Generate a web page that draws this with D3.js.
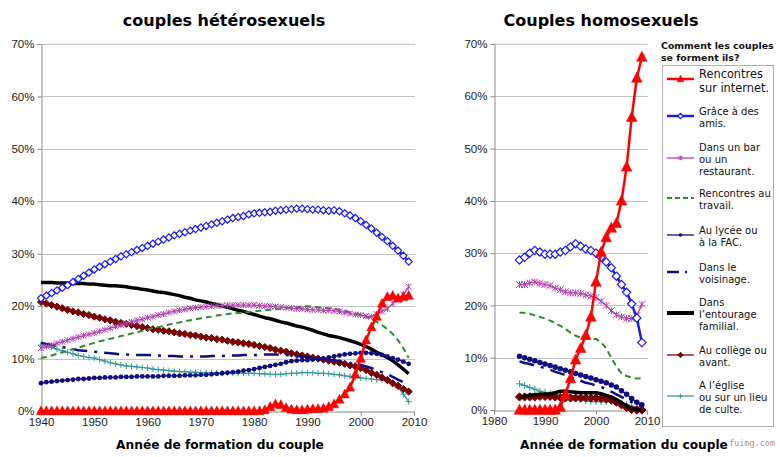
<!DOCTYPE html>
<html>
<head>
<meta charset="utf-8">
<script src="https://cdn.jsdelivr.net/npm/d3@7"></script>
<style>
  body { margin: 0; background: #fff; }
  svg  { display: block; }
</style>
</head>
<body>
<svg id="chart" width="780" height="457"></svg>
<script>
/* ── Data ──────────────────────────────────────────────────────── */

const heteroYears = d3.range(1940, 2010);   // 1940 … 2009
const homoYears   = d3.range(1985, 2010);   // 1985 … 2009

const yTicks      = [0, 10, 20, 30, 40, 50, 60, 70];
const heteroTicks = [1940, 1950, 1960, 1970, 1980, 1990, 2000, 2010];
const homoTicks   = [1980, 1990, 2000, 2010];

// couples hétérosexuels, % par année
const heteroInternet = [
  0,0,0,0,0,0,0,0,0,0, 0,0,0,0,0,0,0,0,0,0, 0,0,0,0,0,0,0,0,0,0, 0,0,0,0,0,0,0,0,0,0,
  0,0, 0.2,0.8,1.3,1.2,0.6,0.3,0.2,0.2,
  0.3,0.4,0.4,0.5,0.8,1.3,2.2,3.2,4.5,7.0,
  10.0,13.5,16.0,18.0,20.5,21.8,22.0,21.5,21.8,22.0];
const heteroFriends = [
  21.5,22.0,22.5,23.0,23.5,24.0,24.6,25.2,25.8,26.4,
  27.0,27.5,28.0,28.5,29.0,29.5,29.9,30.3,30.7,31.1,
  31.5,31.9,32.3,32.7,33.1,33.5,33.8,34.1,34.4,34.7,
  35.0,35.3,35.6,35.9,36.2,36.5,36.8,37.0,37.2,37.5,
  37.7,37.8,37.9,38.0,38.2,38.3,38.4,38.5,38.6,38.6,
  38.5,38.4,38.4,38.3,38.2,38.3,38.1,37.7,37.3,36.8,
  36.2,35.5,34.8,34.0,33.2,32.4,31.5,30.6,29.6,28.5];
const heteroBar = [
  12.0,12.3,12.6,12.9,13.2,13.5,13.8,14.1,14.4,14.6,
  14.9,15.2,15.5,15.8,16.1,16.4,16.7,17.0,17.3,17.5,
  17.8,18.0,18.3,18.5,18.8,19.0,19.2,19.4,19.6,19.7,
  19.8,19.9,20.0,20.1,20.1,20.2,20.2,20.2,20.2,20.2,
  20.2,20.1,20.0,20.0,19.9,19.8,19.7,19.6,19.5,19.5,
  19.4,19.3,19.3,19.2,19.2,19.1,19.0,18.8,18.6,18.4,
  18.3,18.1,18.0,18.5,19.0,19.5,20.5,21.2,22.2,23.7];
const heteroWork = [
  10.1,10.3,10.6,10.9,11.2,11.5,11.8,12.1,12.4,12.7,
  13.0,13.3,13.5,13.8,14.0,14.3,14.5,14.8,15.0,15.3,
  15.5,15.8,16.0,16.2,16.5,16.7,16.9,17.1,17.3,17.5,
  17.7,17.9,18.0,18.2,18.3,18.5,18.6,18.7,18.8,18.9,
  19.0,19.1,19.2,19.3,19.4,19.5,19.6,19.7,19.8,19.9,
  20.0,19.9,19.8,19.7,19.6,19.5,19.3,19.1,18.8,18.6,
  18.3,18.0,17.5,17.0,16.4,15.6,14.7,13.5,12.0,10.1];
const heteroSchool = [
  5.3,5.5,5.6,5.7,5.8,5.9,6.0,6.1,6.1,6.2,
  6.3,6.3,6.4,6.4,6.4,6.5,6.5,6.5,6.6,6.6,
  6.6,6.6,6.6,6.7,6.7,6.7,6.7,6.8,6.8,6.8,
  6.9,6.9,7.0,7.1,7.2,7.3,7.4,7.5,7.7,7.8,
  8.0,8.2,8.4,8.6,8.8,9.0,9.3,9.5,9.6,9.7,
  9.7,9.8,9.9,10.0,10.2,10.4,10.6,10.8,10.9,11.0,
  11.1,11.1,11.0,10.9,10.7,10.4,10.1,9.8,9.4,9.0];
const heteroNeighbours = [
  13.0,12.8,12.6,12.4,12.2,12.0,11.8,11.6,11.5,11.4,
  11.3,11.2,11.1,11.0,10.9,10.8,10.8,10.7,10.7,10.7,
  10.7,10.6,10.6,10.5,10.5,10.5,10.4,10.4,10.4,10.4,
  10.4,10.4,10.5,10.5,10.5,10.6,10.6,10.6,10.7,10.7,
  10.7,10.7,10.8,10.8,10.8,10.7,10.7,10.6,10.5,10.4,
  10.3,10.2,10.1,10.0,9.8,9.7,9.5,9.3,9.1,9.0,
  8.8,8.5,8.2,7.8,7.4,7.0,6.5,6.0,5.5,5.0];
const heteroFamily = [
  24.5,24.5,24.5,24.4,24.4,24.4,24.3,24.3,24.3,24.2,
  24.2,24.1,24.0,23.9,23.9,23.8,23.7,23.5,23.4,23.2,
  23.1,22.9,22.7,22.6,22.4,22.2,22.0,21.7,21.5,21.2,
  21.0,20.8,20.5,20.3,20.0,19.8,19.5,19.2,19.0,18.7,
  18.4,18.1,17.8,17.6,17.3,17.0,16.8,16.5,16.2,16.0,
  15.7,15.4,15.0,14.7,14.4,14.2,14.0,13.7,13.4,13.1,
  12.7,12.3,11.8,11.2,10.7,10.2,9.6,8.8,8.0,7.1];
const heteroCollege = [
  20.8,20.5,20.2,19.9,19.6,19.3,19.0,18.8,18.5,18.3,
  18.0,17.8,17.5,17.3,17.0,16.8,16.6,16.4,16.2,16.0,
  15.8,15.6,15.5,15.3,15.2,15.0,14.8,14.7,14.5,14.4,
  14.2,14.0,13.9,13.7,13.6,13.4,13.2,13.1,12.9,12.8,
  12.6,12.4,12.2,12.0,11.7,11.5,11.3,11.0,10.8,10.6,
  10.4,10.2,10.0,9.8,9.6,9.4,9.2,9.0,8.7,8.5,
  8.2,7.8,7.3,6.9,6.4,5.9,5.3,4.8,4.2,3.7];
const heteroChurch = [
  12.6,12.4,12.1,11.8,11.5,11.2,10.9,10.6,10.4,10.2,
  10.1,9.8,9.5,9.2,9.0,8.8,8.6,8.5,8.4,8.3,
  8.2,8.0,7.9,7.8,7.7,7.6,7.5,7.5,7.4,7.4,
  7.3,7.3,7.3,7.3,7.2,7.2,7.2,7.2,7.2,7.2,
  7.2,7.1,7.1,7.0,7.0,7.0,7.1,7.2,7.2,7.3,
  7.3,7.3,7.2,7.2,7.1,7.0,6.9,6.7,6.6,6.4,
  6.3,6.2,6.1,6.0,5.9,5.7,5.3,4.5,3.2,1.8];

// couples homosexuels, % par année
const homoInternet   = [0,0,0,0,0,0,0,0,0.5,3.0,6.0,9.6,11.8,14.3,17.8,24.5,30.2,33.0,34.8,35.7,40.0,46.5,56.0,63.5,67.5];
const homoFriends    = [28.7,29.2,30.0,30.5,30.2,29.8,29.8,29.8,30.2,30.5,31.2,31.8,31.3,30.8,30.5,30.0,29.2,28.3,27.2,25.6,24.0,22.5,20.3,17.6,12.9];
const homoBar        = [24.0,24.0,24.3,24.5,24.2,24.0,23.8,23.3,23.0,22.6,22.4,22.4,22.3,22.0,21.8,21.5,20.8,20.0,19.0,18.2,17.8,17.5,17.5,18.0,20.2];
const homoWork       = [18.6,18.6,18.4,18.1,17.8,17.5,17.1,16.6,16.1,15.5,14.8,14.2,13.8,13.7,13.6,13.6,13.0,11.8,10.0,8.3,7.0,6.5,6.2,6.0,6.1];
const homoSchool     = [10.3,10.0,9.7,9.4,9.1,8.8,8.5,8.2,7.9,7.6,7.3,7.0,6.7,6.4,6.1,5.8,5.5,5.2,4.8,4.4,3.7,3.0,2.2,1.5,1.0];
const homoNeighbours = [9.3,9.0,8.8,8.5,8.3,8.0,7.7,7.3,7.0,6.7,6.3,6.0,5.6,5.2,5.0,4.7,4.4,4.0,3.5,3.0,2.5,2.0,1.5,1.0,0.7];
const homoFamily     = [2.5,2.6,2.8,2.9,3.0,3.0,3.1,3.3,3.6,3.6,3.5,3.4,3.3,3.3,3.3,3.3,3.1,2.8,2.5,2.0,1.4,0.8,0.3,0.1,0.0];
const homoCollege    = [2.5,2.5,2.5,2.5,2.6,2.6,2.6,2.5,2.4,2.3,2.3,2.3,2.3,2.3,2.3,2.3,2.2,2.1,1.9,1.5,1.0,0.5,0.1,0.0,0.0];
const homoChurch     = [5.0,4.7,4.3,4.0,3.6,3.4,3.2,2.9,2.7,2.5,2.4,2.2,2.0,1.8,1.6,1.6,1.6,1.6,1.6,1.4,1.2,1.0,0.7,0.5,0.3];

const seriesKeys = ["internet", "friends", "bar", "work", "school", "neighbours", "family", "college", "church"];

const legendLabels = [
  ["Rencontres", "sur internet."],
  ["Grâce à des", "amis."],
  ["Dans un bar", "ou un", "restaurant."],
  ["Rencontres au", "travail."],
  ["Au lycée ou", "à la FAC."],
  ["Dans le", "voisinage."],
  ["Dans", "l’entourage", "familial."],
  ["Au collège ou", "avant."],
  ["A l’église", "ou sur un lieu", "de culte."]
];

/* ── Styles ────────────────────────────────────────────────────── */

const STYLE = {
  internet:   { color: "#ff0000", width: 2.5, marker: "triangle", fill: "#ff0000" },
  friends:    { color: "#1c1cf0", width: 2.5, marker: "diamond",  fill: "#ffffff" },
  bar:        { color: "#b040b0", width: 1.3, marker: "star" },
  work:       { color: "#2a8c2a", width: 2,   dash: "6,4" },
  school:     { color: "#0d0d80", width: 1.3, marker: "dot",      fill: "#0d0d80" },
  neighbours: { color: "#0d0d80", width: 2.5, dash: "15,7,3,7" },
  family:     { color: "#000000", width: 3.5 },
  college:    { color: "#7a0000", width: 1.3, marker: "diamond",  fill: "#7a0000" },
  church:     { color: "#2f9a9a", width: 1.2, marker: "plus" },
};

const GRID  = "#c4c4c4";
const AXIS  = "#8a8a8a";
const TICKF = "'Liberation Sans', Arial, sans-serif";
const VERD  = "'DejaVu Sans', Verdana, sans-serif";

const svg = d3.select("#chart");

// ── Markers ───────────────────────────────────────────────────────
function markerPath(type, s) {
  if (type === "triangle") return `M0,${-s*1.1}L${s},${s*0.8}L${-s},${s*0.8}Z`;
  if (type === "diamond")  return `M0,${-s}L${s},0L0,${s}L${-s},0Z`;
  if (type === "star")     return `M${-s},${-s}L${s},${s}M${-s},${s}L${s},${-s}M0,${-s}L0,${s}`;
  if (type === "plus")     return `M${-s},0L${s},0M0,${-s}L0,${s}`;
  return null;
}

function markerSize(type, scale) {
  const base = { triangle: 4.6, diamond: 3.6, star: 3, plus: 3, dot: 2.4 }[type] || 3;
  return base * scale;
}

function drawMarkers(g, pts, st, scale) {
  if (!st.marker) return;
  const s = markerSize(st.marker, scale);
  if (st.marker === "dot") {
    g.selectAll(null).data(pts).join("circle")
      .attr("cx", d => d[0]).attr("cy", d => d[1]).attr("r", s)
      .attr("fill", st.fill);
    return;
  }
  const hollow = st.marker === "star" || st.marker === "plus";
  g.selectAll(null).data(pts).join("path")
    .attr("transform", d => `translate(${d[0]},${d[1]})`)
    .attr("d", markerPath(st.marker, s))
    .attr("fill", hollow ? "none" : st.fill)
    .attr("stroke", st.color)
    .attr("stroke-width", st.marker === "triangle" ? 0.6 : (st.marker === "diamond" && st.fill === "#ffffff" ? 1.2 : 1));
}

// ── Panel ─────────────────────────────────────────────────────────
function drawPanel(p) {
  const x = d3.scaleLinear().domain(p.xDomain).range(p.xRange);
  const y = d3.scaleLinear().domain([0, 70]).range(p.yRange);
  const g = svg.append("g");

  // gridlines
  g.append("g").selectAll("line")
    .data(yTicks.filter(t => t > 0))
    .join("line")
      .attr("x1", p.xRange[0]).attr("x2", p.xRange[1] + 1)
      .attr("y1", d => Math.round(y(d)) + .5).attr("y2", d => Math.round(y(d)) + .5)
      .attr("stroke", GRID).attr("stroke-width", 1);

  // y axis
  const yAxis = g.append("g")
    .attr("transform", `translate(${Math.round(p.xRange[0]) + .5},0)`)
    .call(d3.axisLeft(y).tickValues(yTicks).tickFormat(d => d + "%").tickSize(4).tickSizeOuter(0).tickPadding(3));
  // x axis
  const xAxis = g.append("g")
    .attr("transform", `translate(0,${Math.round(p.yRange[0]) + .5})`)
    .call(d3.axisBottom(x).tickValues(p.xTicks).tickFormat(d3.format("d")).tickSize(4).tickSizeOuter(0).tickPadding(2));

  [yAxis, xAxis].forEach(a => {
    a.select(".domain").attr("stroke", AXIS);
    a.selectAll(".tick line").attr("stroke", AXIS);
    a.selectAll("text").attr("font-family", TICKF).attr("font-size", 11.5).attr("fill", "#222");
  });

  // series (reverse so internet sits on top)
  const line = d3.line().x(d => d[0]).y(d => d[1]);
  seriesKeys.slice().reverse().forEach(k => {
    const st  = STYLE[k];
    const pts = p.years.map((yr, i) => [x(yr), y(p.values[k][i])]);
    const sg  = g.append("g");
    sg.append("path")
      .attr("d", line(pts))
      .attr("fill", "none")
      .attr("stroke", st.color)
      .attr("stroke-width", st.width)
      .attr("stroke-dasharray", st.dash || null)
      .attr("stroke-linejoin", "round");
    drawMarkers(sg, pts, st, p.markerScale);
  });

  // titles
  svg.append("text")
    .attr("x", p.titleX).attr("y", 26)
    .attr("text-anchor", "middle")
    .attr("font-family", VERD).attr("font-weight", "bold").attr("font-size", 16)
    .text(p.title);
  svg.append("text")
    .attr("x", p.axisTitleX).attr("y", 449)
    .attr("text-anchor", "middle")
    .attr("font-family", VERD).attr("font-weight", "bold").attr("font-size", 12.2)
    .text("Année de formation du couple");
}

drawPanel({
  title: "couples hétérosexuels", titleX: 224, axisTitleX: 220,
  years: heteroYears, xDomain: [1940, 2010], xRange: [41, 414], yRange: [411, 44],
  xTicks: heteroTicks, markerScale: 1,
  values: { internet: heteroInternet, friends: heteroFriends, bar: heteroBar, work: heteroWork,
            school: heteroSchool, neighbours: heteroNeighbours, family: heteroFamily,
            college: heteroCollege, church: heteroChurch },
});

drawPanel({
  title: "Couples homosexuels", titleX: 601, axisTitleX: 624,
  years: homoYears, xDomain: [1980, 2010], xRange: [494, 647], yRange: [410, 44],
  xTicks: homoTicks, markerScale: 1.15,
  values: { internet: homoInternet, friends: homoFriends, bar: homoBar, work: homoWork,
            school: homoSchool, neighbours: homoNeighbours, family: homoFamily,
            college: homoCollege, church: homoChurch },
});

// ── Legend ────────────────────────────────────────────────────────
const legendTop = [73, 111, 147, 193, 230, 267, 302, 350, 385];   // first-line centre per entry
const LINE_H = 12;

const lg = svg.append("g");
lg.append("text").attr("x", 661).attr("y", 49)
  .attr("font-family", VERD).attr("font-weight", "bold").attr("font-size", 9.4)
  .attr("fill", "#111")
  .text("Comment les couples");
lg.append("text").attr("x", 661).attr("y", 61)
  .attr("font-family", VERD).attr("font-weight", "bold").attr("font-size", 9.4)
  .attr("fill", "#111")
  .text("se forment ils?");
lg.append("rect")
  .attr("x", 662.5).attr("y", 65.5).attr("width", 111).attr("height", 361)
  .attr("fill", "none").attr("stroke", "#b0b0b0");

seriesKeys.forEach((k, i) => {
  const st    = STYLE[k];
  const lines = legendLabels[i];
  const big   = i === 0;
  const lh    = big ? 14 : LINE_H;
  const top   = legendTop[i];
  const cy    = top + (lines.length - 1) * lh / 2 - 1;

  lg.append("line")
    .attr("x1", 667).attr("x2", 694).attr("y1", cy).attr("y2", cy)
    .attr("stroke", st.color)
    .attr("stroke-width", Math.min(st.width + (k === "family" ? 0.5 : 0), 4))
    .attr("stroke-dasharray", k === "neighbours" ? "12,6,2,20" : (k === "work" ? "5,3" : null));
  if (st.marker) drawMarkers(lg.append("g"), [[680.5, cy]], st, 0.75);

  lg.append("g").selectAll("text").data(lines).join("text")
    .attr("x", 699)
    .attr("y", (d, j) => top + j * lh + (big ? 4.5 : 4))
    .attr("font-family", VERD)
    .attr("font-size", big ? 11.4 : 10)
    .attr("fill", "#111")
    .text(d => d);
});

// watermark
svg.append("text").attr("x", 729).attr("y", 446)
  .attr("font-family", "'DejaVu Sans Mono', monospace").attr("font-size", 8.5)
  .attr("fill", "#9a9a9a")
  .text("fuimg.com");
</script>
</body>
</html>
